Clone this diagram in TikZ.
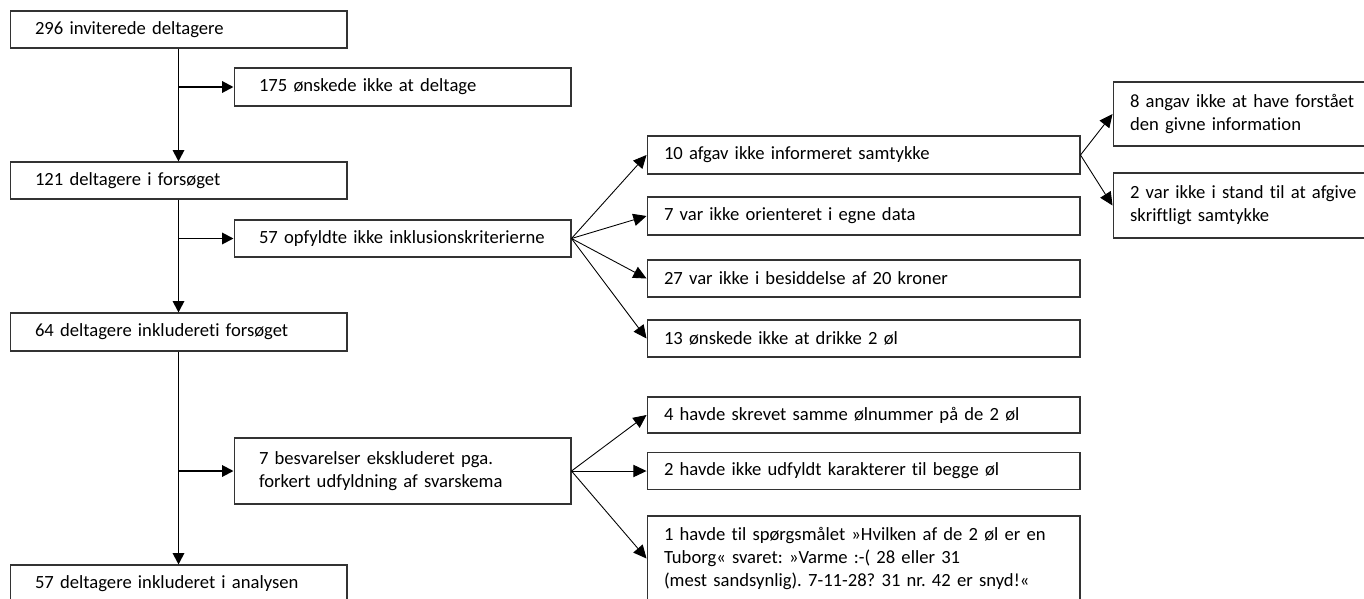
\documentclass[tikz,border=0pt]{standalone}
\usepackage{fontspec}
\setmainfont{Carlito}[Ligatures=NoCommon]
\usetikzlibrary{arrows.meta}
\hyphenpenalty=10000
\exhyphenpenalty=10000
\frenchspacing

\tikzset{
  box/.style={draw=black!80, line width=0.6pt, inner ysep=0pt, align=left,
    font=\fontsize{10.6}{13}\selectfont},
  leftbox/.style={box, text width=5.74cm, inner xsep=0.5cm},
  midbox/.style={box, text width=7.98cm, inner xsep=0.34cm},
  sidebox/.style={box, text width=4.56cm, inner xsep=0.34cm},
  trunk/.style={line width=1.1pt, -{Triangle[length=6.5pt,width=6.5pt]}},
  fan/.style={line width=0.5pt, -{Triangle[length=7.5pt,width=7pt]}}
}

\begin{document}
\begin{tikzpicture}[x=0.02cm, y=-0.02cm]
    \useasboundingbox (0,0) rectangle (1364,598);

    % main column
    \node[leftbox, minimum height=0.74cm] (invited) at (178.5,29.5) {296 inviterede deltagere};
    \node[leftbox, minimum height=0.74cm] (trial) at (178.5,180.5) {121 deltagere i forsøget};
    \node[leftbox, minimum height=0.76cm] (included) at (178.5,332) {64 deltagere inkludereti forsøget};
    \node[leftbox, minimum height=0.74cm] (analysis) at (178.5,583.5) {57 deltagere inkluderet i analysen};

    % side column
    \node[leftbox, minimum height=0.76cm] (declined) at (402.5,87) {175 ønskede ikke at deltage};
    \node[leftbox, minimum height=0.74cm] (criteria) at (402.5,238.5) {57 opfyldte ikke inklusionskriterierne};
    \node[leftbox, minimum height=1.32cm] (excluded) at (402.5,471) {7 besvarelser ekskluderet pga.\\forkert udfyldning af svarskema};

    %%%%%%%%%%%%%%%%%%%%%%%%%%%%%%
    \node[midbox, minimum height=0.76cm] (consent) at (863.5,155) {10 afgav ikke informeret samtykke};
    \node[midbox, minimum height=0.76cm] (owndata) at (863.5,216) {7 var ikke orienteret i egne data};
    \node[midbox, minimum height=0.74cm] (money) at (863.5,278.5) {27 var ikke i besiddelse af 20 kroner};
    \node[midbox, minimum height=0.74cm] (beer) at (863.5,338.5) {13 ønskede ikke at drikke 2 øl};
    \node[midbox, minimum height=0.72cm] (samenum) at (863.5,415) {4 havde skrevet samme ølnummer på de 2 øl};
    \node[midbox, minimum height=0.74cm] (nomarks) at (863.5,471) {2 havde ikke udfyldt karakterer til begge øl};
    \node[midbox, minimum height=1.7cm] (tuborg) at (863.5,558.5) {1 havde til spørgsmålet »Hvilken af de 2 øl er en\\Tuborg« svaret: »Varme :-( 28 eller 31\\(mest sandsynlig). 7-11-28? 31 nr. 42 er snyd!«};

    \node[sidebox, minimum height=1.28cm] (understood) at (1244,114) {8 angav ikke at have forstået\\den givne information};
    \node[sidebox, minimum height=1.3cm] (unable) at (1244,205.5) {2 var ikke i stand til at afgive\\skriftligt samtykke};

    %%%%%%%%%%%%%%%%%%%%%%%%%%%%%%
    \draw[trunk] (invited) -- (trial);
    \draw[trunk] (trial) -- (included);
    \draw[trunk] (included) -- (analysis);
    \draw[trunk] (invited.south |- declined.west) -- (declined.west);
    \draw[trunk] (trial.south |- criteria.west) -- (criteria.west);
    \draw[trunk] (included.south |- excluded.west) -- (excluded.west);

    \draw[fan] (criteria.east) -- (consent.west);
    \draw[fan] (criteria.east) -- (owndata.west);
    \draw[fan] (criteria.east) -- (money.west);
    \draw[fan] (criteria.east) -- (beer.west);
    \draw[fan] (consent.east) -- (understood.west);
    \draw[fan] (consent.east) -- (unable.west);
    \draw[fan] (excluded.east) -- (samenum.west);
    \draw[fan] (excluded.east) -- (nomarks.west);
    \draw[fan] (excluded.east) -- (tuborg.west);
\end{tikzpicture}
\end{document}
